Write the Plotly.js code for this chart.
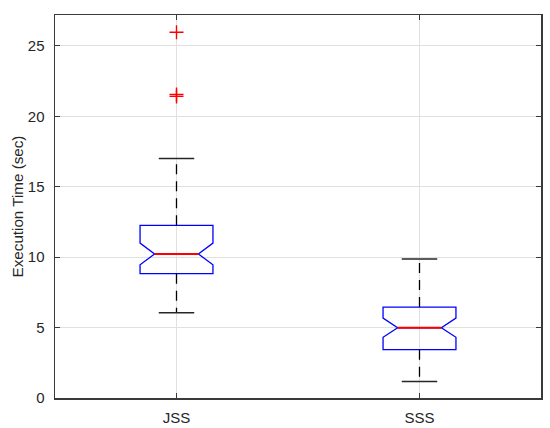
<!DOCTYPE html>
<html>
<head>
<meta charset="utf-8">
<script src="https://cdn.plot.ly/plotly-3.0.1.min.js"></script>
<style>
  html, body { margin: 0; padding: 0; background: #fff; }
  #graph { width: 550px; height: 428px; }
</style>
</head>
<body>
<div id="graph"></div>
<script>
// box statistics (seconds)
const categories = ['JSS', 'SSS'];
const positions = [1, 2];
const q1 = [8.83, 3.43];
const medians = [10.23, 4.99];
const q3 = [12.26, 6.46];
const lowerWhisker = [6.05, 1.18];
const upperWhisker = [17.0, 9.87];
const notchSpan = [0.77, 0.68];
const outlierPos = [1, 1, 1];
const outlierVals = [25.97, 21.55, 21.42];

// shape settings (MATLAB-ish boxplot look)
const boxWidth = 0.3;
const notchWidth = 0.2;
const capHalf = 0.073;
const notchHalf = boxWidth / 2 * (1 - 2 * notchWidth);

// notched blue boxes, whiskers collapsed so they can be drawn dashed separately
const boxes = {
  type: 'box',
  x: positions,
  q1: q1,
  median: medians,
  q3: q3,
  lowerfence: q1,
  upperfence: q3,
  notched: true,
  notchspan: notchSpan,
  notchwidth: notchWidth,
  width: boxWidth,
  whiskerwidth: 0,
  boxpoints: false,
  line: { color: '#0000ff', width: 1.3 },
  fillcolor: 'rgba(0,0,0,0)',
  hoverinfo: 'skip',
  showlegend: false
};

// dashed whiskers
const wx = [], wy = [];
positions.forEach((p, i) => {
  wx.push(p, p, null, p, p, null);
  wy.push(q3[i], upperWhisker[i], null, q1[i], lowerWhisker[i], null);
});
const whiskers = {
  type: 'scatter', mode: 'lines', x: wx, y: wy,
  line: { color: '#000000', width: 1.3, dash: '10px,7px' },
  hoverinfo: 'skip', showlegend: false
};

// whisker caps
const cx = [], cy = [];
positions.forEach((p, i) => {
  cx.push(p - capHalf, p + capHalf, null, p - capHalf, p + capHalf, null);
  cy.push(upperWhisker[i], upperWhisker[i], null, lowerWhisker[i], lowerWhisker[i], null);
});
const caps = {
  type: 'scatter', mode: 'lines', x: cx, y: cy,
  line: { color: '#262626', width: 1.5 },
  hoverinfo: 'skip', showlegend: false
};

// red median lines across the notch waist (covers the blue box median)
const mx = [], my = [];
positions.forEach((p, i) => {
  mx.push(p - notchHalf, p + notchHalf, null);
  my.push(medians[i], medians[i], null);
});
const medianLines = {
  type: 'scatter', mode: 'lines', x: mx, y: my,
  line: { color: '#ff0000', width: 2 },
  hoverinfo: 'skip', showlegend: false
};

const outliers = {
  type: 'scatter', mode: 'markers', x: outlierPos, y: outlierVals,
  marker: { symbol: 'cross-thin', size: 10, line: { color: '#ff0000', width: 1.4 } },
  hoverinfo: 'skip', showlegend: false
};

const axisColor = '#262626';

const layout = {
  width: 550,
  height: 428,
  margin: { l: 55, r: 9, t: 15, b: 30 },
  paper_bgcolor: '#ffffff',
  plot_bgcolor: '#ffffff',
  font: { family: 'Liberation Sans, Arial, sans-serif', size: 15, color: axisColor },
  showlegend: false,
  xaxis: {
    range: [0.5, 2.5],
    tickvals: positions,
    ticktext: categories,
    showgrid: true,
    gridcolor: '#e0e0e0',
    zeroline: false,
    showline: true,
    linecolor: '#3a3a3a',
    linewidth: 1.5,
    mirror: 'ticks',
    ticks: 'inside',
    ticklen: 5,
    tickcolor: '#3a3a3a',
    ticklabelstandoff: 5
  },
  yaxis: {
    range: [0, 27.2],
    tickvals: [0, 5, 10, 15, 20, 25],
    showgrid: true,
    gridcolor: '#e0e0e0',
    zeroline: false,
    showline: true,
    linecolor: '#3a3a3a',
    linewidth: 1.5,
    mirror: 'ticks',
    ticks: 'inside',
    ticklen: 5,
    tickcolor: '#3a3a3a',
    ticklabelstandoff: 6,
    title: { text: 'Execution Time (sec)', font: { size: 15.2, color: axisColor }, standoff: 0 }
  }
};

Plotly.newPlot('graph', [boxes, whiskers, caps, medianLines, outliers], layout, { displayModeBar: false, staticPlot: true });
</script>
</body>
</html>
